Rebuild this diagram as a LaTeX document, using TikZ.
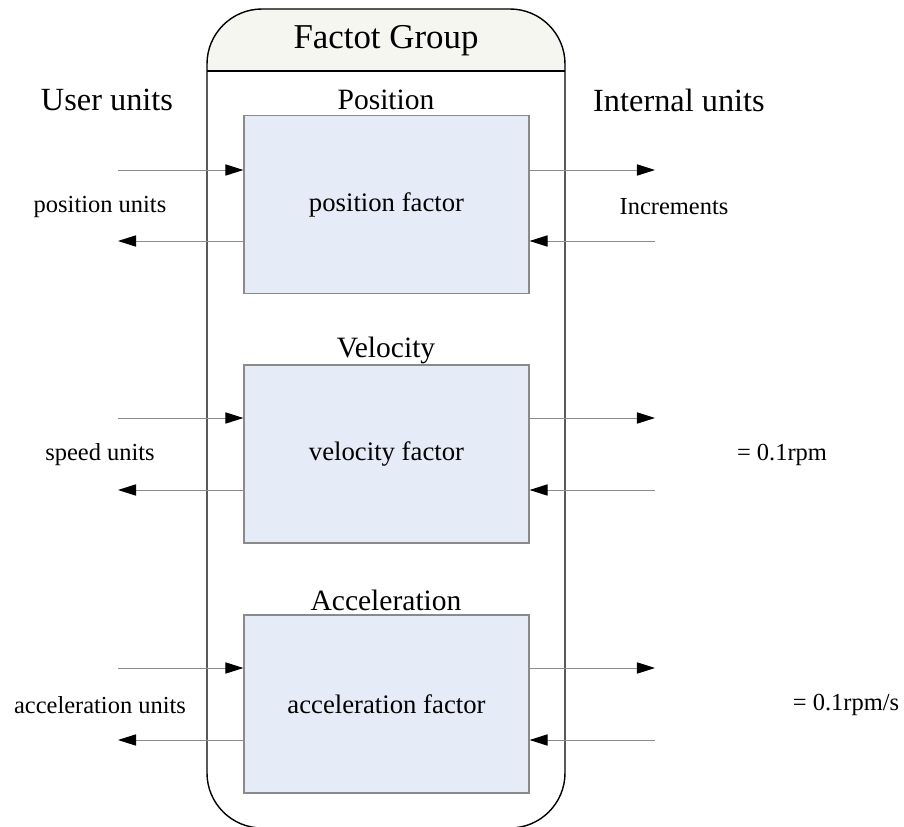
\documentclass[tikz,border=0pt]{standalone}
\usepackage{fontspec}
\setmainfont{Liberation Serif}
\usetikzlibrary{positioning,arrows.meta}

\definecolor{headfill}{HTML}{F6F6F1}
\definecolor{boxfill}{HTML}{E6ECF7}
\definecolor{boxline}{HTML}{8A8A8A}
\definecolor{sigline}{HTML}{8C8C8C}

\begin{document}
\begin{tikzpicture}[x=0.025cm,y=-0.025cm,
    factorbox/.style={draw=boxline,fill=boxfill,line width=0.8pt,inner sep=0pt,
        minimum width=7.125cm,minimum height=4.45cm,
        font=\fontsize{19}{22}\selectfont},
    title/.style={inner sep=0pt,font=\fontsize{21}{24}\selectfont},
    coltitle/.style={inner sep=0pt,font=\fontsize{23}{26}\selectfont},
    unit/.style={inner sep=0pt,font=\fontsize{17.4}{20}\selectfont},
    sig/.style={draw=sigline,line width=0.7pt,-{Triangle[length=0.45cm,width=0.28cm,black]}}]
    \useasboundingbox (0,0) rectangle (904,827);
    \clip (0,0) rectangle (904,827);

    % Draw the group frame with its header
    \fill[headfill] (207,71) {[rounded corners=1.375cm] -- (207,9) -- (565,9)} -- (565,71) -- cycle;
    \draw[line width=1pt,rounded corners=1.375cm] (207,9) rectangle (565,828);
    \draw[line width=1pt] (207,71) -- (565,71);
    \node[inner sep=0pt,font=\fontsize{24.8}{28}\selectfont] (grp) at (386,41) {Factot Group};

    % column titles
    \node[coltitle] (user) at (107,100) {User units};
    \node[coltitle] (intern) at (679,100) {Internal units};

    % Draw the factor boxes
    \node[title] (postitle) at (386,100) {Position};
    \node[factorbox] (pos) at (386.5,204.5) {position factor};

    \node[title] (veltitle) at (386,350) {Velocity};
    \node[factorbox] (vel) at (386.5,454) {velocity factor};

    \node[title] (acctitle) at (386,600) {Acceleration};
    \node[factorbox] (acc) at (386.5,704) {acceleration factor};

    % free ends of the arrows
    \coordinate (posinL) at (118,170);
    \coordinate (posoutL) at (118,241);
    \coordinate (posoutR) at (655,170);
    \coordinate (posinR) at (655,241);

    \coordinate (velinL) at (118,418);
    \coordinate (veloutL) at (118,490);
    \coordinate (veloutR) at (655,418);
    \coordinate (velinR) at (655,490);

    \coordinate (accinL) at (118,668);
    \coordinate (accoutL) at (118,740);
    \coordinate (accoutR) at (655,668);
    \coordinate (accinR) at (655,740);

    % position arrows
    \draw[sig] (posinL) -- (posinL -| pos.west);
    \draw[sig] (posoutL -| pos.west) -- (posoutL);
    \draw[sig] (posoutR -| pos.east) -- (posoutR);
    \draw[sig] (posinR) -- (posinR -| pos.east);

    % velocity arrows
    \draw[sig] (velinL) -- (velinL -| vel.west);
    \draw[sig] (veloutL -| vel.west) -- (veloutL);
    \draw[sig] (veloutR -| vel.east) -- (veloutR);
    \draw[sig] (velinR) -- (velinR -| vel.east);

    % acceleration arrows
    \draw[sig] (accinL) -- (accinL -| acc.west);
    \draw[sig] (accoutL -| acc.west) -- (accoutL);
    \draw[sig] (accoutR -| acc.east) -- (accoutR);
    \draw[sig] (accinR) -- (accinR -| acc.east);

    % unit labels
    \node[unit] (posunit) at (100,207) {position units};
    \node[unit] (posinc) at (674,207) {Increments};
    \node[unit] (velunit) at (100,455) {speed units};
    \node[unit] (velrpm) at (782,455) {= 0.1rpm};
    \node[unit] (accunit) at (100,705) {acceleration units};
    \node[unit] (accrpm) at (846,705) {= 0.1rpm/s};
\end{tikzpicture}
\end{document}
